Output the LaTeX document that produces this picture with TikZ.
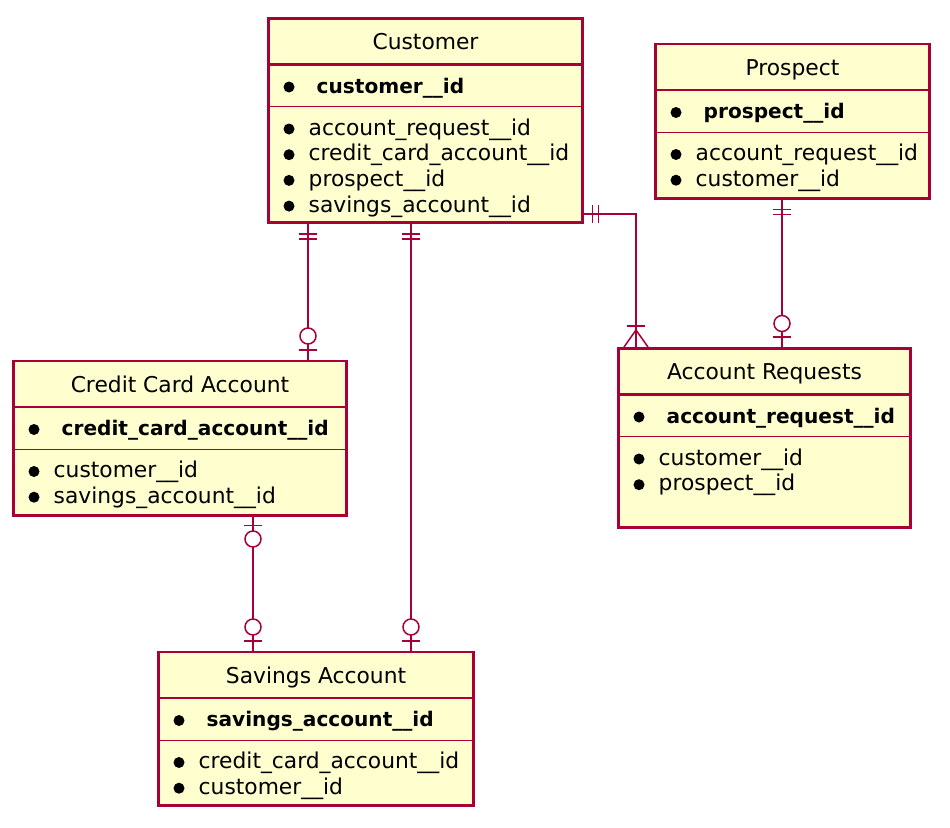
\documentclass[tikz,border=0pt]{standalone}
\usepackage{fontspec}
\setmainfont{DejaVu Sans}
\definecolor{erline}{HTML}{A80036}
\definecolor{erfill}{HTML}{FEFECE}

\begin{document}
\begin{tikzpicture}[x = 1pt, y = -1pt]
  \useasboundingbox (0,0) rectangle (950,827);
  \tikzset{EntityStyle/.style = {draw           = erline,
                                 line width     = 2.8pt,
                                 fill           = erfill,
                                 inner sep      = 0pt,
                                 anchor         = north west}}
  \tikzset{TitleStyle/.style  = {anchor         = base,
                                 inner sep      = 0pt,
                                 font           = \fontsize{21.8}{26}\selectfont}}
  \tikzset{KeyStyle/.style    = {anchor         = base west,
                                 inner sep      = 0pt,
                                 font           = \fontsize{20.1}{26}\selectfont\bfseries}}
  \tikzset{AttrStyle/.style   = {anchor         = base west,
                                 inner sep      = 0pt,
                                 font           = \fontsize{21.8}{26}\selectfont}}
  \tikzset{DotStyle/.style    = {shape          = circle,
                                 fill           = black,
                                 inner sep      = 0pt,
                                 minimum size   = 11pt}}
  \tikzset{TitleRule/.style   = {draw = erline, line width = 2.8pt}}
  \tikzset{KeyRule/.style     = {draw = erline, line width = 1pt}}
  \tikzset{EdgeStyle/.style   = {draw = erline, line width = 1.5pt}}

  % entities
  \node[EntityStyle, minimum width = 314.2pt, minimum height = 204.2pt] (Customer) at (267,17) {};
  \node[EntityStyle, minimum width = 274.2pt, minimum height = 154.7pt] (Prospect) at (654,42.5) {};
  \node[EntityStyle, minimum width = 333.2pt, minimum height = 154.2pt] (CCA) at (12,359.5) {};
  \node[EntityStyle, minimum width = 292.2pt, minimum height = 179.2pt] (AR) at (617,347) {};
  \node[EntityStyle, minimum width = 315.2pt, minimum height = 153.7pt] (Savings) at (157,650.5) {};

  \draw[TitleRule] ([shift={(0,47.5)}]Customer.north west) -- ([shift={(0,47.5)}]Customer.north east);
  \draw[KeyRule]   ([shift={(0,89.5)}]Customer.north west) -- ([shift={(0,89.5)}]Customer.north east);
  \draw[TitleRule] ([shift={(0,47.5)}]Prospect.north west) -- ([shift={(0,47.5)}]Prospect.north east);
  \draw[KeyRule]   ([shift={(0,89.5)}]Prospect.north west) -- ([shift={(0,89.5)}]Prospect.north east);
  \draw[TitleRule] ([shift={(0,47.5)}]CCA.north west) -- ([shift={(0,47.5)}]CCA.north east);
  \draw[KeyRule]   ([shift={(0,89.5)}]CCA.north west) -- ([shift={(0,89.5)}]CCA.north east);
  \draw[TitleRule] ([shift={(0,47.5)}]AR.north west) -- ([shift={(0,47.5)}]AR.north east);
  \draw[KeyRule]   ([shift={(0,89.5)}]AR.north west) -- ([shift={(0,89.5)}]AR.north east);
  \draw[TitleRule] ([shift={(0,47.5)}]Savings.north west) -- ([shift={(0,47.5)}]Savings.north east);
  \draw[KeyRule]   ([shift={(0,89.5)}]Savings.north west) -- ([shift={(0,89.5)}]Savings.north east);

  % Customer
  \node[TitleStyle] (Customer-t) at ([shift={(0,32.5)}]Customer.north) {Customer};
  \node[DotStyle] (Customer-d0) at ([shift={(22,70)}]Customer.north west) {};
  \node[KeyStyle] (Customer-k) at ([shift={(49.5,76)}]Customer.north west) {customer\_\_id};
  \node[DotStyle] (Customer-d1) at ([shift={(22,112)}]Customer.north west) {};
  \node[AttrStyle] (Customer-a1) at ([shift={(41.5,118)}]Customer.north west) {account\_request\_\_id};
  \node[DotStyle] (Customer-d2) at ([shift={(22,137.7)}]Customer.north west) {};
  \node[AttrStyle] (Customer-a2) at ([shift={(41.5,143.7)}]Customer.north west) {credit\_card\_account\_\_id};
  \node[DotStyle] (Customer-d3) at ([shift={(22,163.4)}]Customer.north west) {};
  \node[AttrStyle] (Customer-a3) at ([shift={(41.5,169.4)}]Customer.north west) {prospect\_\_id};
  \node[DotStyle] (Customer-d4) at ([shift={(22,189.1)}]Customer.north west) {};
  \node[AttrStyle] (Customer-a4) at ([shift={(41.5,195.1)}]Customer.north west) {savings\_account\_\_id};

  % Prospect
  \node[TitleStyle] (Prospect-t) at ([shift={(0,32.5)}]Prospect.north) {Prospect};
  \node[DotStyle] (Prospect-d0) at ([shift={(22,70)}]Prospect.north west) {};
  \node[KeyStyle] (Prospect-k) at ([shift={(49.5,76)}]Prospect.north west) {prospect\_\_id};
  \node[DotStyle] (Prospect-d1) at ([shift={(22,112)}]Prospect.north west) {};
  \node[AttrStyle] (Prospect-a1) at ([shift={(41.5,118)}]Prospect.north west) {account\_request\_\_id};
  \node[DotStyle] (Prospect-d2) at ([shift={(22,137.7)}]Prospect.north west) {};
  \node[AttrStyle] (Prospect-a2) at ([shift={(41.5,143.7)}]Prospect.north west) {customer\_\_id};

  % Credit Card Account
  \node[TitleStyle] (CCA-t) at ([shift={(0,32.5)}]CCA.north) {Credit Card Account};
  \node[DotStyle] (CCA-d0) at ([shift={(22,70)}]CCA.north west) {};
  \node[KeyStyle] (CCA-k) at ([shift={(49.5,76)}]CCA.north west) {credit\_card\_account\_\_id};
  \node[DotStyle] (CCA-d1) at ([shift={(22,112)}]CCA.north west) {};
  \node[AttrStyle] (CCA-a1) at ([shift={(41.5,118)}]CCA.north west) {customer\_\_id};
  \node[DotStyle] (CCA-d2) at ([shift={(22,137.7)}]CCA.north west) {};
  \node[AttrStyle] (CCA-a2) at ([shift={(41.5,143.7)}]CCA.north west) {savings\_account\_\_id};

  % Account Requests
  \node[TitleStyle] (AR-t) at ([shift={(0,32.5)}]AR.north) {Account Requests};
  \node[DotStyle] (AR-d0) at ([shift={(22,70)}]AR.north west) {};
  \node[KeyStyle] (AR-k) at ([shift={(49.5,76)}]AR.north west) {account\_request\_\_id};
  \node[DotStyle] (AR-d1) at ([shift={(22,112)}]AR.north west) {};
  \node[AttrStyle] (AR-a1) at ([shift={(41.5,118)}]AR.north west) {customer\_\_id};
  \node[DotStyle] (AR-d2) at ([shift={(22,137.7)}]AR.north west) {};
  \node[AttrStyle] (AR-a2) at ([shift={(41.5,143.7)}]AR.north west) {prospect\_\_id};

  % Savings Account
  \node[TitleStyle] (Savings-t) at ([shift={(0,32.5)}]Savings.north) {Savings Account};
  \node[DotStyle] (Savings-d0) at ([shift={(22,70)}]Savings.north west) {};
  \node[KeyStyle] (Savings-k) at ([shift={(49.5,76)}]Savings.north west) {savings\_account\_\_id};
  \node[DotStyle] (Savings-d1) at ([shift={(22,112)}]Savings.north west) {};
  \node[AttrStyle] (Savings-a1) at ([shift={(41.5,118)}]Savings.north west) {credit\_card\_account\_\_id};
  \node[DotStyle] (Savings-d2) at ([shift={(22,137.7)}]Savings.north west) {};
  \node[AttrStyle] (Savings-a2) at ([shift={(41.5,143.7)}]Savings.north west) {customer\_\_id};

  % connector columns
  \coordinate (colCC) at (308,0);
  \coordinate (colSA) at (411,0);
  \coordinate (colAR) at (636,0);
  \coordinate (colPR) at (782,0);
  \coordinate (colCS) at (253,0);
  \coordinate (rowAR) at (0,214);

  % Customer -- Credit Card Account
  \coordinate (cc-a) at (Customer.south -| colCC);
  \coordinate (cc-b) at (CCA.north -| colCC);
  \draw[EdgeStyle] (cc-a) -- (cc-b);
  \draw[EdgeStyle] ([shift={(-9,10)}]cc-a) -- ++(18,0) ([shift={(-9,15)}]cc-a) -- ++(18,0);
  \draw[EdgeStyle] ([shift={(-9,-9.5)}]cc-b) -- ++(18,0);
  \draw[EdgeStyle, fill = white] ([shift={(0,-23.5)}]cc-b) circle[radius = 8pt];

  % Customer -- Savings Account
  \coordinate (sa-a) at (Customer.south -| colSA);
  \coordinate (sa-b) at (Savings.north -| colSA);
  \draw[EdgeStyle] (sa-a) -- (sa-b);
  \draw[EdgeStyle] ([shift={(-9,10)}]sa-a) -- ++(18,0) ([shift={(-9,15)}]sa-a) -- ++(18,0);
  \draw[EdgeStyle] ([shift={(-9,-9.5)}]sa-b) -- ++(18,0);
  \draw[EdgeStyle, fill = white] ([shift={(0,-23.5)}]sa-b) circle[radius = 8pt];

  % Customer -- Account Requests
  \coordinate (ar-a) at (Customer.east |- rowAR);
  \coordinate (ar-b) at (AR.north -| colAR);
  \draw[EdgeStyle] (ar-a) -| (ar-b);
  \draw[EdgeStyle] ([shift={(8.5,-9)}]ar-a) -- ++(0,18) ([shift={(14.5,-9)}]ar-a) -- ++(0,18);
  \draw[EdgeStyle] ([shift={(-9,-21)}]ar-b) -- ++(18,0);
  \draw[EdgeStyle] ([shift={(-12,0)}]ar-b) -- ([shift={(0,-17)}]ar-b) -- ([shift={(12,0)}]ar-b);

  % Prospect -- Account Requests
  \coordinate (pr-a) at (Prospect.south -| colPR);
  \coordinate (pr-b) at (AR.north -| colPR);
  \draw[EdgeStyle] (pr-a) -- (pr-b);
  \draw[EdgeStyle] ([shift={(-9,9.5)}]pr-a) -- ++(18,0) ([shift={(-9,14.5)}]pr-a) -- ++(18,0);
  \draw[EdgeStyle] ([shift={(-9,-10)}]pr-b) -- ++(18,0);
  \draw[EdgeStyle, fill = white] ([shift={(0,-23.5)}]pr-b) circle[radius = 8pt];

  % Credit Card Account -- Savings Account
  \coordinate (cs-a) at (CCA.south -| colCS);
  \coordinate (cs-b) at (Savings.north -| colCS);
  \draw[EdgeStyle] (cs-a) -- (cs-b);
  \draw[EdgeStyle] ([shift={(-9,9)}]cs-a) -- ++(18,0);
  \draw[EdgeStyle, fill = white] ([shift={(0,22.5)}]cs-a) circle[radius = 8pt];
  \draw[EdgeStyle] ([shift={(-9,-9.5)}]cs-b) -- ++(18,0);
  \draw[EdgeStyle, fill = white] ([shift={(0,-23.5)}]cs-b) circle[radius = 8pt];
\end{tikzpicture}
\end{document}
